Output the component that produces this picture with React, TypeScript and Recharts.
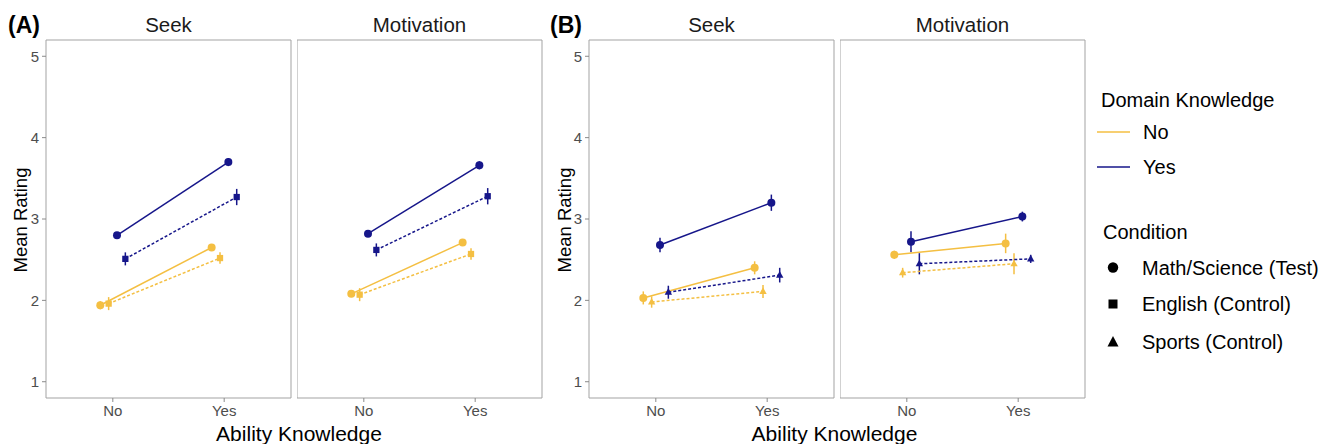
import React from "react";
import { ScatterChart, Scatter, XAxis, YAxis, ErrorBar, ReferenceArea } from "recharts";

// ---------- data ----------
const ABILITY = ["No", "Yes"]; // x categories (Ability Knowledge)
const Y_TICKS = [1, 2, 3, 4, 5];
const PANEL_TITLES = ["Seek", "Motivation", "Seek", "Motivation"];
const FIGURE_LABELS = ["(A)", "(B)"];
const DOMAIN_LEVELS = ["No", "Yes"];
const CONDITION_LABELS = ["Math/Science (Test)", "English (Control)", "Sports (Control)"];

// Figure A (control = English)
const aSeekNoTest = [1.94, 2.65];
const aSeekNoTestErr = [0.05, 0.04];
const aSeekNoCtrl = [1.96, 2.52];
const aSeekNoCtrlErr = [0.08, 0.07];
const aSeekYesTest = [2.8, 3.7];
const aSeekYesTestErr = [0.04, 0.05];
const aSeekYesCtrl = [2.51, 3.27];
const aSeekYesCtrlErr = [0.08, 0.1];

const aMotNoTest = [2.08, 2.71];
const aMotNoTestErr = [0.04, 0.04];
const aMotNoCtrl = [2.07, 2.57];
const aMotNoCtrlErr = [0.08, 0.07];
const aMotYesTest = [2.82, 3.66];
const aMotYesTestErr = [0.04, 0.05];
const aMotYesCtrl = [2.62, 3.28];
const aMotYesCtrlErr = [0.08, 0.1];

// Figure B (control = Sports)
const bSeekNoTest = [2.03, 2.4];
const bSeekNoTestErr = [0.08, 0.08];
const bSeekNoCtrl = [1.98, 2.11];
const bSeekNoCtrlErr = [0.07, 0.08];
const bSeekYesTest = [2.68, 3.2];
const bSeekYesTestErr = [0.09, 0.1];
const bSeekYesCtrl = [2.1, 2.31];
const bSeekYesCtrlErr = [0.08, 0.09];

const bMotNoTest = [2.56, 2.7];
const bMotNoTestErr = [0.05, 0.12];
const bMotNoCtrl = [2.34, 2.45];
const bMotNoCtrlErr = [0.06, 0.13];
const bMotYesTest = [2.72, 3.03];
const bMotYesTestErr = [0.13, 0.06];
const bMotYesCtrl = [2.45, 2.51];
const bMotYesCtrlErr = [0.13, 0.05];

// ---------- style ----------
const YELLOW = "#F4BF42";
const BLUE = "#16168A";
const BORDER = "#A3A3A3";
const TICK_TEXT = "#4D4D4D";
const FONT = "'Liberation Sans', Arial, Helvetica, sans-serif";
const DODGE = [-0.1125, -0.0375, 0.0375, 0.1125];

type Shape = "circle" | "square" | "triangle";

function Marker(props: any) {
  const { cx, cy, kind, color, scale = 1.08 } = props;
  if (cx == null || cy == null) return null;
  if (kind === "circle") return <circle cx={cx} cy={cy} r={3.7 * scale} fill={color} />;
  if (kind === "square") {
    const h = 2.9 * scale;
    return <rect x={cx - h} y={cy - h} width={2 * h} height={2 * h} fill={color} />;
  }
  const w = 3.4 * scale;
  return (
    <polygon
      points={`${cx},${cy - 3.8 * scale} ${cx - w},${cy + 2.4 * scale} ${cx + w},${cy + 2.4 * scale}`}
      fill={color}
    />
  );
}

function build(vals: number[], errs: number[], dodge: number) {
  return vals.map((v, i) => ({ x: i + 1 + dodge, y: v, err: errs[i] }));
}

type Panel = {
  left: number;
  showY: boolean;
  ctrl: Shape;
  series: { vals: number[]; errs: number[]; color: string; kind: Shape; dashed: boolean }[];
};

function makePanel(
  left: number,
  showY: boolean,
  ctrl: Shape,
  noTest: number[], noTestErr: number[],
  noCtrl: number[], noCtrlErr: number[],
  yesTest: number[], yesTestErr: number[],
  yesCtrl: number[], yesCtrlErr: number[]
): Panel {
  return {
    left,
    showY,
    ctrl,
    series: [
      { vals: noTest, errs: noTestErr, color: YELLOW, kind: "circle", dashed: false },
      { vals: noCtrl, errs: noCtrlErr, color: YELLOW, kind: ctrl, dashed: true },
      { vals: yesTest, errs: yesTestErr, color: BLUE, kind: "circle", dashed: false },
      { vals: yesCtrl, errs: yesCtrlErr, color: BLUE, kind: ctrl, dashed: true },
    ],
  };
}

const PANELS: Panel[] = [
  makePanel(46, true, "square", aSeekNoTest, aSeekNoTestErr, aSeekNoCtrl, aSeekNoCtrlErr, aSeekYesTest, aSeekYesTestErr, aSeekYesCtrl, aSeekYesCtrlErr),
  makePanel(297, false, "square", aMotNoTest, aMotNoTestErr, aMotNoCtrl, aMotNoCtrlErr, aMotYesTest, aMotYesTestErr, aMotYesCtrl, aMotYesCtrlErr),
  makePanel(589, true, "triangle", bSeekNoTest, bSeekNoTestErr, bSeekNoCtrl, bSeekNoCtrlErr, bSeekYesTest, bSeekYesTestErr, bSeekYesCtrl, bSeekYesCtrlErr),
  makePanel(840, false, "triangle", bMotNoTest, bMotNoTestErr, bMotNoCtrl, bMotNoCtrlErr, bMotYesTest, bMotYesTestErr, bMotYesCtrl, bMotYesCtrlErr),
];

const PANEL_W = 245;
const PANEL_TOP = 40;
const PANEL_H = 358;
const Y_AXIS_W = 46;
const X_AXIS_H = 34;

function PanelChart({ panel }: { panel: Panel }) {
  const yw = panel.showY ? Y_AXIS_W : 0;
  const width = yw + PANEL_W + 3;
  const height = 5 + PANEL_H + X_AXIS_H;
  return (
    <div style={{ position: "absolute", left: panel.left - yw, top: PANEL_TOP - 5 }}>
      <ScatterChart width={width} height={height} margin={{ top: 5, right: 3, bottom: 0, left: 0 }}>
        <XAxis
          type="number"
          dataKey="x"
          domain={[0.4, 2.6]}
          ticks={[1, 2]}
          allowDataOverflow
          tickFormatter={(v: number) => ABILITY[Math.round(v) - 1]}
          axisLine={false}
          tickLine={{ stroke: "#8A8A8A" }}
          tickSize={4}
          tickMargin={3}
          height={X_AXIS_H}
          tick={{ fill: TICK_TEXT, fontSize: 15, fontFamily: FONT }}
        />
        <YAxis
          type="number"
          dataKey="y"
          domain={[0.8, 5.2]}
          ticks={Y_TICKS}
          allowDataOverflow
          hide={!panel.showY}
          width={Y_AXIS_W}
          axisLine={false}
          tickLine={{ stroke: "#8A8A8A" }}
          tickSize={4}
          tickMargin={3}
          tick={{ fill: TICK_TEXT, fontSize: 15, fontFamily: FONT }}
        />
        <ReferenceArea x1={0.4} x2={2.6} y1={0.8} y2={5.2} fill="none" stroke={BORDER} strokeWidth={1} />
        {panel.series.map((s, i) => (
          <Scatter
            key={i}
            data={build(s.vals, s.errs, DODGE[i])}
            fill={s.color}
            isAnimationActive={false}
            line={{ stroke: s.color, strokeWidth: 1.5, strokeDasharray: s.dashed ? "3 2" : undefined }}
            lineType="joint"
            shape={(p: any) => <Marker cx={p.cx} cy={p.cy} kind={s.kind} color={s.color} />}
          >
            <ErrorBar dataKey="err" direction="y" width={0} stroke={s.color} strokeWidth={1.5} />
          </Scatter>
        ))}
      </ScatterChart>
    </div>
  );
}

function Overlay() {
  const titleCenters = PANELS.map((p) => p.left + PANEL_W / 2);
  return (
    <svg width={1327} height={444} style={{ position: "absolute", left: 0, top: 0 }} fontFamily={FONT}>
      <text x={8} y={33} fontSize={23} fontWeight="bold" fill="#000">{FIGURE_LABELS[0]}</text>
      <text x={550} y={33} fontSize={23} fontWeight="bold" fill="#000">{FIGURE_LABELS[1]}</text>
      {PANEL_TITLES.map((t, i) => (
        <text key={t + i} x={titleCenters[i]} y={32} fontSize={20.5} textAnchor="middle" fill="#1A1A1A">{t}</text>
      ))}
      <text x={27} y={220} fontSize={18.5} textAnchor="middle" transform="rotate(-90 27 220)" fill="#000">Mean Rating</text>
      <text x={571} y={220} fontSize={18.5} textAnchor="middle" transform="rotate(-90 571 220)" fill="#000">Mean Rating</text>
      <text x={299} y={441} fontSize={21} textAnchor="middle" fill="#000">Ability Knowledge</text>
      <text x={834.5} y={441} fontSize={21} textAnchor="middle" fill="#000">Ability Knowledge</text>

      {/* legend */}
      <text x={1101} y={107} fontSize={20} fill="#000">Domain Knowledge</text>
      <line x1={1097} x2={1130} y1={132} y2={132} stroke={YELLOW} strokeWidth={1.6} />
      <text x={1143} y={139} fontSize={20} fill="#000">{DOMAIN_LEVELS[0]}</text>
      <line x1={1097} x2={1130} y1={167} y2={167} stroke={BLUE} strokeWidth={1.6} />
      <text x={1143} y={174} fontSize={20} fill="#000">{DOMAIN_LEVELS[1]}</text>

      <text x={1103} y={239} fontSize={20} fill="#000">Condition</text>
      <circle cx={1113} cy={267.5} r={5.2} fill="#000" />
      <text x={1142} y={274.5} fontSize={20} fill="#000">{CONDITION_LABELS[0]}</text>
      <rect x={1108.5} y={299.5} width={9} height={9} fill="#000" />
      <text x={1142} y={311} fontSize={20} fill="#000">{CONDITION_LABELS[1]}</text>
      <polygon points="1113,336 1107.5,346.5 1118.5,346.5" fill="#000" />
      <text x={1142} y={349} fontSize={20} fill="#000">{CONDITION_LABELS[2]}</text>
    </svg>
  );
}

export default function App() {
  return (
    <div
      style={{
        position: "absolute",
        left: 0,
        top: 0,
        width: 1327,
        height: 444,
        background: "#fff",
        fontFamily: FONT,
        overflow: "hidden",
      }}
    >
      <Overlay />
      {PANELS.map((p, i) => (
        <PanelChart key={i} panel={p} />
      ))}
    </div>
  );
}
